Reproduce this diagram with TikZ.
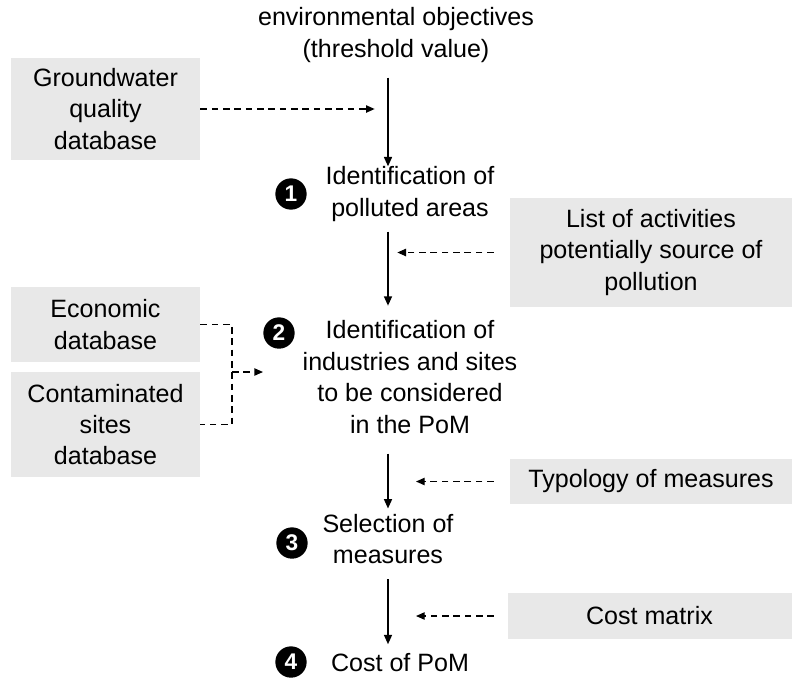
\documentclass[tikz,border=0pt]{standalone}
\usepackage{fontspec}
\setmainfont{Liberation Sans}
\usetikzlibrary{arrows.meta,positioning}
\definecolor{boxfill}{HTML}{E8E8E8}

\begin{document}
\begin{tikzpicture}[
  x=0.75pt, y=-0.75pt,
  font=\fontsize{18.8}{23.6}\selectfont,
  >={Triangle[length=7pt,width=6pt]},
  flow/.style={->, draw=black, line width=1.1pt},
  feedline/.style={draw=black, line width=1pt, dash pattern=on 5pt off 3.5pt},
  feed/.style={feedline, -{Triangle[length=6.5pt,width=5.5pt]}},
  source/.style={
    fill=boxfill, inner sep=0pt, align=center,
    minimum width=142pt, minimum height=34pt
  },
  stage/.style={align=center, inner sep=0pt},
  badge/.style={
    circle, fill=black, text=white, inner sep=0pt, minimum size=23.5pt,
    font=\fontsize{17}{17}\selectfont\bfseries
  }
]
\useasboundingbox (0,0) rectangle (792,683);

% Main sequence of stages.
\node[stage] (objectives) at (396,35)
  {environmental objectives\\(threshold value)};
\node[stage] (stageOne) at (410,194) {Identification of\\polluted areas};
\node[stage] (stageTwo) at (410,377)
  {Identification of\\industries and sites\\to be considered\\in the PoM};
\node[stage] (stageThree) at (388,539) {Selection of\\measures};
\node[stage] (stageFour) at (400,663) {Cost of PoM};

\node[badge] (badgeOne) at (291,194) {1};
\node[badge] (badgeTwo) at (279,333) {2};
\node[badge] (badgeThree) at (292,543) {3};
\node[badge] (badgeFour) at (291,662) {4};

% Data sources.
\node[source, minimum height=76.5pt] (groundwater) at (105.5,109)
  {Groundwater\\quality\\database};
\node[source, minimum height=56.25pt] (economic) at (105.5,324.5)
  {Economic\\database};
\node[source, minimum height=78.75pt] (contaminated) at (105.5,424.5)
  {Contaminated\\sites\\database};
\node[source, minimum width=211.5pt, minimum height=81.75pt]
  (activities) at (651,252.5)
  {List of activities\\potentially source of\\pollution};
\node[source, minimum width=211.5pt, minimum height=33.75pt]
  (typology) at (651,481.5) {Typology of measures};
\node[source, minimum width=213pt, minimum height=34.5pt]
  (costMatrix) at (649.5,616) {Cost matrix};

% Spine of the procedure.
\coordinate (spine) at (388,0);
\draw[flow] (objectives.south -| spine) ++(0,15) -- (stageOne.north -| spine);
\draw[flow, shorten >=11]
  (stageOne.south -| spine) ++(0,10) -- (stageTwo.north -| spine);
\draw[flow, shorten >=4]
  (stageTwo.south -| spine) ++(0,20) -- (stageThree.north -| spine);
\draw[flow, shorten >=7]
  (stageThree.south -| spine) ++(0,15) -- (stageFour.north -| spine);

% Inputs feeding the spine.
\draw[feed, shorten >=10] (groundwater.east) -- (groundwater.east -| spine);
\draw[feed, shorten <=12, shorten >=7]
  (activities.west) -- (activities.west -| spine);
\draw[feed, shorten <=12, shorten >=21]
  (typology.west) -- (typology.west -| spine);
\draw[feed, shorten <=10, shorten >=21]
  (costMatrix.west) -- (costMatrix.west -| spine);

\coordinate (merge) at (232,372);
\draw[feedline] (economic.east) -| (merge) |- (contaminated.east);
\draw[feed] (merge) -- ++(31,0);

\end{tikzpicture}
\end{document}
